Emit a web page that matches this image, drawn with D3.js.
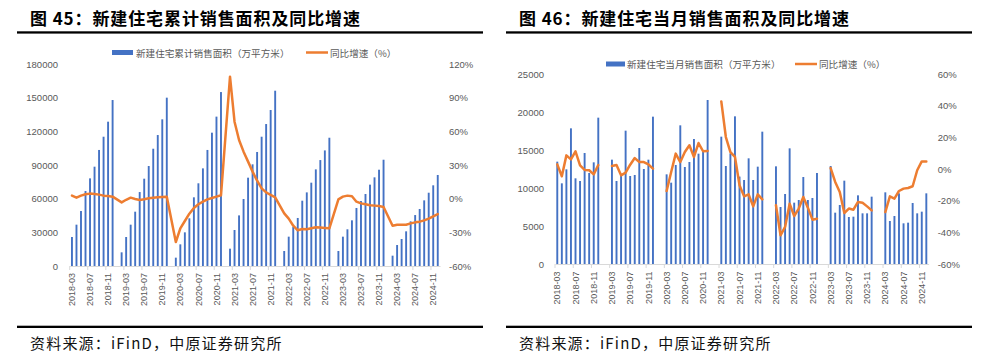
<!DOCTYPE html>
<html><head><meta charset="utf-8">
<script src="https://cdn.jsdelivr.net/npm/d3@7"></script>
<style>
html,body{margin:0;padding:0;background:#fff;}
svg{display:block;}
</style></head><body>
<svg id="c" width="988" height="354"></svg>
<script>
// ---------------- DATA ----------------
const categories = [
 "2018-03","2018-04","2018-05","2018-06","2018-07","2018-08","2018-09","2018-10","2018-11","2018-12",
 "2019-01","2019-02","2019-03","2019-04","2019-05","2019-06","2019-07","2019-08","2019-09","2019-10","2019-11","2019-12",
 "2020-01","2020-02","2020-03","2020-04","2020-05","2020-06","2020-07","2020-08","2020-09","2020-10","2020-11","2020-12",
 "2021-01","2021-02","2021-03","2021-04","2021-05","2021-06","2021-07","2021-08","2021-09","2021-10","2021-11","2021-12",
 "2022-01","2022-02","2022-03","2022-04","2022-05","2022-06","2022-07","2022-08","2022-09","2022-10","2022-11","2022-12",
 "2023-01","2023-02","2023-03","2023-04","2023-05","2023-06","2023-07","2023-08","2023-09","2023-10","2023-11","2023-12",
 "2024-01","2024-02","2024-03","2024-04","2024-05","2024-06","2024-07","2024-08","2024-09","2024-10","2024-11","2024-12"
];
const xTickLabels = ["2018-03","2018-07","2018-11","2019-03","2019-07","2019-11","2020-03","2020-07","2020-11",
 "2021-03","2021-07","2021-11","2022-03","2022-07","2022-11","2023-03","2023-07","2023-11","2024-03","2024-07","2024-11"];

// Chart 45: cumulative sales area (万平方米) and YoY (%)
const cumArea = [
 25840,36830,49000,66800,78100,88500,103400,115200,128600,147900,
 null,12180,25840,36830,48400,65900,77800,89100,104500,116700,130700,150000,
 null,7430,19300,30000,42500,61200,73700,87000,103400,118800,133100,155000,
 null,15440,32080,45100,59700,78700,90600,101600,115200,126500,139000,156200,
 null,13370,26140,35000,42800,58200,65600,74250,86100,94400,103000,114300,
 null,13370,26140,32700,40700,51700,57900,64150,72500,79000,85800,94700,
 null,9200,18700,24060,30900,39800,45400,50800,58500,65300,71900,81100
];
const cumYoY = [
 2.7,0.9,2.7,3.9,4.5,4.2,3.6,2.7,2.4,1.8,
 null,-3.3,-1.0,0.9,-0.3,-1.2,-0.6,0.3,0.9,1.2,1.5,1.8,
 null,-38.6,-26.4,-19.9,-13.4,-8.3,-5.0,-2.7,-0.6,0.6,1.8,3.0,
 null,108.7,68.6,52.3,41.9,33.0,24.1,16.0,9.2,5.6,3.3,1.2,
 null,-13.1,-17.8,-24.1,-28.2,-27.0,-27.3,-26.4,-25.5,-25.8,-26.1,-26.4,
 null,-0.6,1.8,2.7,2.1,-2.7,-4.2,-5.0,-5.9,-6.2,-6.5,-7.4,
 null,-24.1,-23.2,-23.2,-23.2,-22.0,-21.1,-20.5,-19.3,-17.8,-15.7,-13.7
];
const cumAreaTicks = [0,30000,60000,90000,120000,150000,180000];
const cumYoYTicks = [-60,-30,0,30,60,90,120];

// Chart 46: monthly sales area (万平方米) and YoY (%)
const monthArea = [
 13465,10614,12456,17851,11272,10921,14605,11974,13377,19255,
 null,null,13728,10921,11754,17544,11579,11711,15263,12500,13728,19386,
 null,null,11798,10702,13026,18246,12763,13421,16447,14518,15000,21579,
 null,null,16754,12895,14561,19430,11500,11053,13904,11053,12807,17412,
 null,null,12851,7500,9211,15219,8070,8421,11447,8421,8684,11974,
 null,null,12895,6754,7763,10965,6184,6228,9035,6667,6667,8860,
 null,null,9430,5658,6316,9298,5351,5439,8026,6667,6886,9298
];
const monthYoY = [
 2.9,-4.6,8.6,6.1,11.2,2.3,-0.6,-0.8,-3.4,2.5,
 null,null,1.9,2.5,-4.0,-2.3,2.7,6.9,4.4,4.4,2.9,0.2,
 null,null,-13.9,-1.9,9.7,4.4,10.7,15.0,7.6,16.4,11.2,11.4,
 null,null,42.7,20.2,10.7,7.6,-10.3,-17.3,-16.0,-23.6,-16.0,-19.2,
 null,null,-22.9,-41.9,-36.6,-21.9,-29.7,-25.0,-17.7,-24.4,-32.0,-31.4,
 null,null,0.6,-8.2,-14.5,-27.8,-25.0,-25.7,-20.8,-21.3,-23.6,-26.1,
 null,null,-27.2,-17.3,-18.7,-13.9,-12.4,-12.0,-10.9,-0.8,4.8,4.8
];
const monthAreaTicks = [0,5000,10000,15000,20000,25000];
const monthYoYTicks = [-60,-40,-20,0,20,40,60];

const legendBar45 = "新建住宅累计销售面积（万平方米）";
const legendBar46 = "新建住宅当月销售面积（万平方米）";
const legendLine = "同比增速（%）";
const title45 = "图 45：新建住宅累计销售面积及同比增速";
const title46 = "图 46：新建住宅当月销售面积及同比增速";
const sourceText = "资料来源：iFinD，中原证券研究所";

// ---------------- DRAW ----------------
const BLUE = "#4472C4", ORANGE = "#ED7D31", GREY = "#595959", AXIS = "#D9D9D9";
const NUMFONT = "'Liberation Sans', Arial, sans-serif";
const CJK = "'Noto Sans CJK SC', 'Noto Sans', sans-serif";
const svg = d3.select("#c");

function drawPanel(o) {
  const g = svg.append("g");
  // title
  g.append("text").attr("x", o.titleX).attr("y", 17.5).attr("dominant-baseline", "central")
    .style("font-family", CJK).style("font-weight", 700).style("font-size", "17px")
    .style("letter-spacing", "0.9px").attr("fill", "#000").text(o.title);
  // rules
  g.append("rect").attr("x", o.ruleX0).attr("width", o.ruleX1 - o.ruleX0).attr("y", 31.3).attr("height", 2.3).attr("fill", "#000");
  g.append("rect").attr("x", o.ruleX0).attr("width", o.ruleX1 - o.ruleX0).attr("y", 325.7).attr("height", 2.3).attr("fill", "#000");
  // source
  g.append("text").attr("x", o.titleX).attr("y", 342.3).attr("dominant-baseline", "central")
    .style("font-family", CJK).style("font-size", "15px").style("letter-spacing", "1.2px")
    .attr("fill", "#111").text(sourceText);

  const x = d3.scaleBand().domain(categories).range([o.x0, o.x1]).paddingInner(0).paddingOuter(0);
  const yL = d3.scaleLinear().domain(o.leftDomain).range([o.yBottom, o.yTop]);
  const yR = d3.scaleLinear().domain(o.rightDomain).range([o.yBottom, o.yTop]);
  const bw = x.bandwidth() * 0.42;

  // left axis
  const aL = g.append("g").attr("transform", `translate(${o.leftLabelX},0)`)
    .call(d3.axisLeft(yL).tickValues(o.leftTicks).tickSize(0).tickPadding(0).tickFormat(d3.format("d")));
  aL.select(".domain").remove();
  aL.selectAll("text").style("font-family", NUMFONT).style("font-size", "9.5px").attr("fill", GREY);
  // right axis
  const aR = g.append("g").attr("transform", `translate(${o.rightLabelX},0)`)
    .call(d3.axisRight(yR).tickValues(o.rightTicks).tickSize(0).tickPadding(0).tickFormat(d => d + "%"));
  aR.select(".domain").remove();
  aR.selectAll("text").style("font-family", NUMFONT).style("font-size", "9.5px").attr("fill", GREY);

  // bars
  const rows = categories.map((c, i) => ({c, v: o.bars[i], r: o.line[i]}));
  g.append("g").selectAll("rect").data(rows.filter(d => d.v != null)).join("rect")
    .attr("x", d => x(d.c) + x.bandwidth() / 2 - bw / 2).attr("width", bw)
    .attr("y", d => yL(d.v)).attr("height", d => yL(0) - yL(d.v)).attr("fill", BLUE);

  // x axis
  const aX = g.append("g").attr("transform", `translate(0,${o.yBottom})`)
    .call(d3.axisBottom(x).tickValues(xTickLabels).tickSize(0));
  aX.select(".domain").attr("stroke", AXIS).attr("stroke-width", 1);
  aX.selectAll("text").attr("transform", "rotate(-90)").attr("x", -o.labelGap).attr("y", 0).attr("dy", "0.35em")
    .style("text-anchor", "end").style("font-family", NUMFONT).style("font-size", "9px").attr("fill", GREY);
  // tick marks between categories every 4
  const tickCats = categories.filter((c, i) => i % 4 === 0);
  g.append("g").selectAll("line").data(tickCats).join("line")
    .attr("x1", d => x(d)).attr("x2", d => x(d)).attr("y1", o.yBottom).attr("y2", o.yBottom + 4)
    .attr("stroke", AXIS).attr("stroke-width", 1);

  // line
  const line = d3.line().x(d => x(d.c) + x.bandwidth() / 2).y(d => yR(d.r)).defined(d => d.r != null);
  const lineData = o.connect ? rows.filter(d => d.r != null) : rows;
  g.append("path").datum(lineData).attr("d", line).attr("fill", "none").attr("stroke", ORANGE)
    .attr("stroke-width", 2.5).attr("stroke-linejoin", "round").attr("stroke-linecap", "round");

  // legend
  const L = o.legend;
  g.append("rect").attr("x", L.bx).attr("y", L.y - 2.5).attr("width", L.bw).attr("height", 5).attr("fill", BLUE);
  g.append("text").attr("x", L.tx).attr("y", L.y).attr("dominant-baseline", "central")
    .style("font-family", CJK).style("font-size", "9.6px").attr("fill", GREY).text(o.legendBar);
  g.append("line").attr("x1", L.lx).attr("x2", L.lx + L.lw).attr("y1", L.y).attr("y2", L.y)
    .attr("stroke", ORANGE).attr("stroke-width", 2.5);
  g.append("text").attr("x", L.ltx).attr("y", L.y).attr("dominant-baseline", "central")
    .style("font-family", CJK).style("font-size", "9.6px").attr("fill", GREY).text(legendLine);
}

drawPanel({
  title: title45, titleX: 30, ruleX0: 17, ruleX1: 483,
  x0: 69.7, x1: 440, yTop: 64, yBottom: 266,
  leftDomain: [0, 180000], rightDomain: [-60, 120],
  leftTicks: cumAreaTicks, rightTicks: cumYoYTicks,
  leftLabelX: 58, rightLabelX: 449, labelGap: 7,
  bars: cumArea, line: cumYoY, connect: true,
  legendBar: legendBar45,
  legend: {y: 52.5, bx: 112, bw: 21, tx: 136, lx: 306, lw: 22, ltx: 330}
});
drawPanel({
  title: title46, titleX: 519, ruleX0: 506, ruleX1: 972,
  x0: 555, x1: 928.6, yTop: 74, yBottom: 264,
  leftDomain: [0, 25000], rightDomain: [-60, 60],
  leftTicks: monthAreaTicks, rightTicks: monthYoYTicks,
  leftLabelX: 544, rightLabelX: 937.7, labelGap: 7.5,
  bars: monthArea, line: monthYoY, connect: false,
  legendBar: legendBar46,
  legend: {y: 64, bx: 606, bw: 19, tx: 627, lx: 795, lw: 22, ltx: 819}
});
</script>
</body></html>
